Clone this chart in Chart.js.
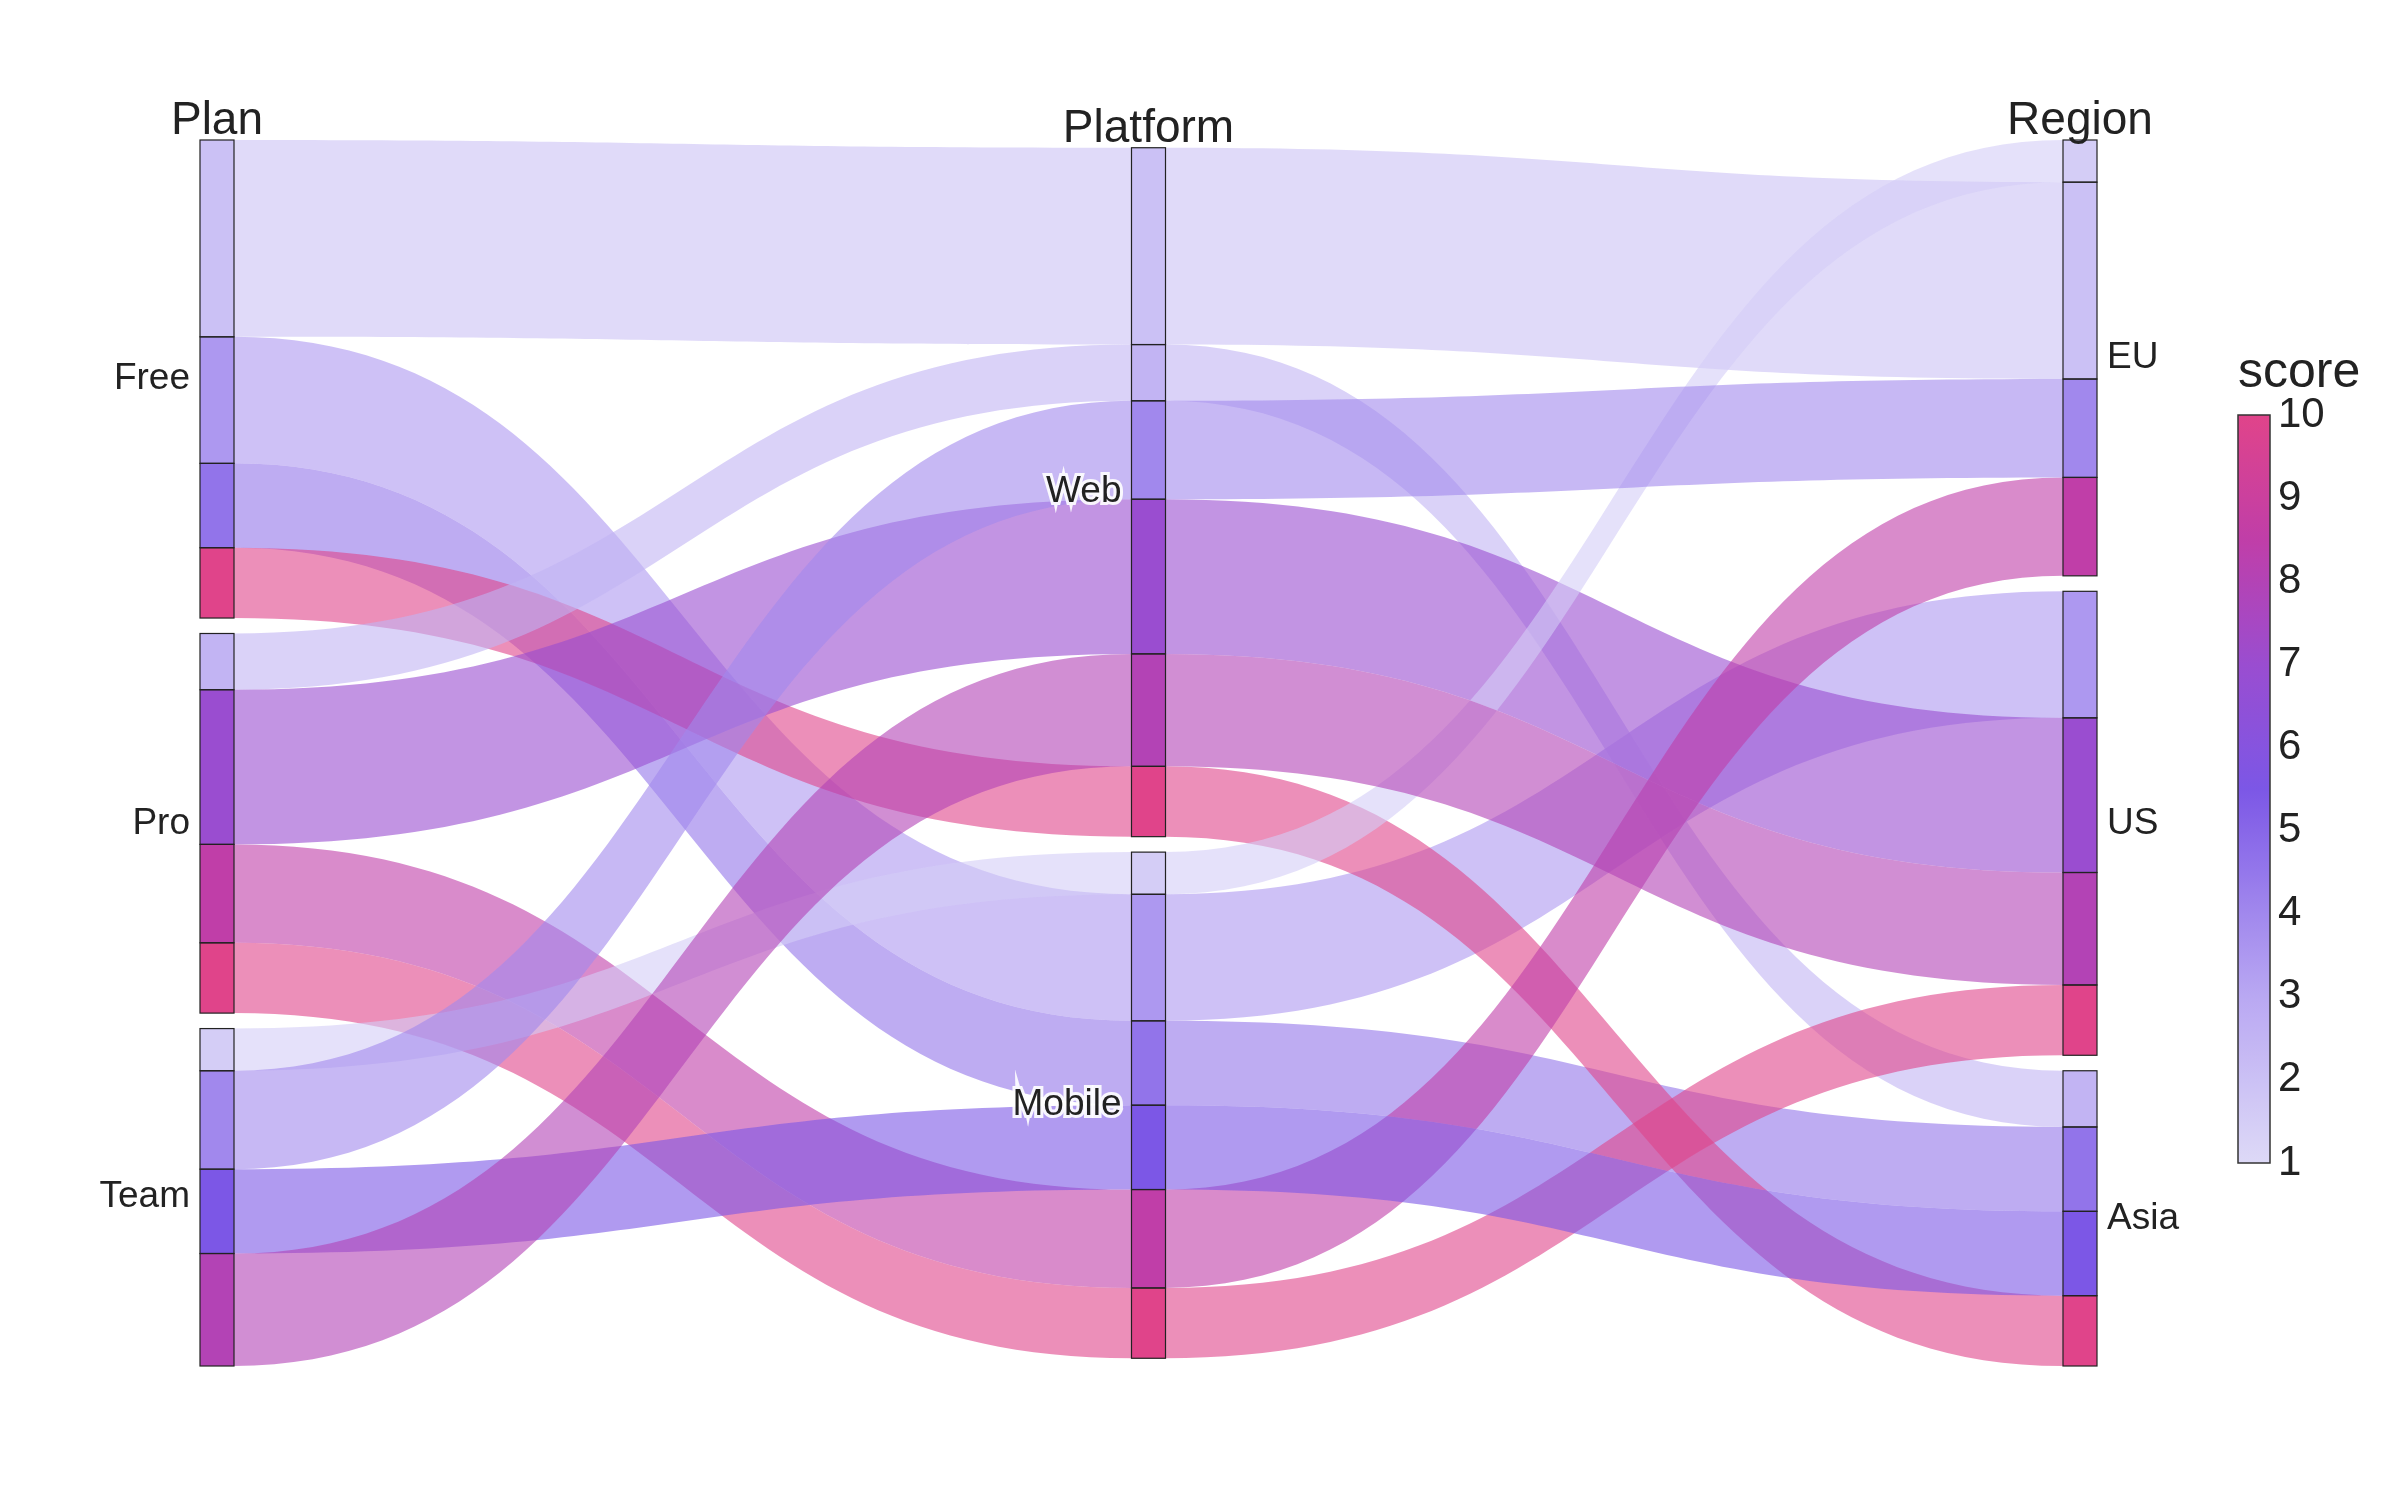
<!DOCTYPE html>
<html><head><meta charset="utf-8">
<script src="https://cdn.jsdelivr.net/npm/chart.js@4.4.0/dist/chart.umd.min.js"></script>
<style>html,body{margin:0;padding:0;background:#fff}</style>
</head><body>
<canvas id="c" width="2400" height="1500"></canvas>
<script>
const dimensions = ['Plan', 'Platform', 'Region'];
const planCats = ['Free', 'Pro', 'Team'];
const platformCats = ['Web', 'Mobile'];
const regionCats = ['EU', 'US', 'Asia'];
const pathPlan = ['Free','Free','Free','Free','Pro','Pro','Pro','Pro','Team','Team','Team','Team'];
const pathPlatform = ['Web','Mobile','Mobile','Web','Web','Web','Mobile','Mobile','Mobile','Web','Mobile','Web'];
const pathRegion = ['EU','US','Asia','Asia','Asia','US','EU','US','EU','EU','Asia','US'];
const pathCount = [14,9,6,5,4,11,7,5,3,7,6,8];
const pathScore = [2,3.5,4.6,10,2.5,7,8.5,10,1.5,4,5.5,8];
const colorTicks = [1,2,3,4,5,6,7,8,9,10];

const stops = [[1,[221,217,247]],[3,[185,168,242]],[5.5,[124,87,230]],[7,[154,77,208]],[8.5,[192,62,168]],[10,[224,68,138]]];
function col(s,a){for(let i=1;i<stops.length;i++){if(s<=stops[i][0]){const [s0,c0]=stops[i-1],[s1,c1]=stops[i];const t=(s-s0)/(s1-s0);const c=c0.map((v,k)=>Math.round(v+(c1[k]-v)*t));return `rgba(${c[0]},${c[1]},${c[2]},${a})`;}}return `rgba(224,68,138,${a})`;}

const GAP = 1.1;
const total = pathCount.reduce((a,b)=>a+b,0);
const yMax = total + 2*GAP;
const dimCats = [planCats, platformCats, regionCats];
const dimVals = [pathPlan, pathPlatform, pathRegion];

// compute positions (in data units) for each path in each dimension
function layout(){
  const pos = []; const cats = [];
  dimCats.forEach((cl,d)=>{
    const span = total + (cl.length-1)*GAP;
    let y = (yMax - span)/2;
    const p = new Array(pathCount.length); const cs=[];
    cl.forEach(c=>{
      const idx = pathCount.map((_,i)=>i).filter(i=>dimVals[d][i]===c).sort((a,b)=>pathScore[a]-pathScore[b]);
      const start=y;
      idx.forEach(i=>{p[i]=[y,y+pathCount[i]]; y+=pathCount[i];});
      cs.push({name:c,start,end:y}); y+=GAP;
    });
    pos.push(p); cats.push(cs);
  });
  return {pos,cats};
}

const plugin = {id:'parcats', afterDatasetsDraw(chart){
  const ctx=chart.ctx, xs=chart.scales.x, ys=chart.scales.y;
  const {pos,cats}=layout();
  const hw=17;
  // ribbons
  const order = pathCount.map((_,i)=>i);
  for(let d=0; d<2; d++){
    const x0=xs.getPixelForValue(d)+hw, x1=xs.getPixelForValue(d+1)-hw, xm=(x0+x1)/2;
    order.forEach(i=>{
      const a=pos[d][i], b=pos[d+1][i];
      const a0=ys.getPixelForValue(a[0]),a1=ys.getPixelForValue(a[1]),b0=ys.getPixelForValue(b[0]),b1=ys.getPixelForValue(b[1]);
      ctx.beginPath(); ctx.moveTo(x0,a0); ctx.bezierCurveTo(xm,a0,xm,b0,x1,b0);
      ctx.lineTo(x1,b1); ctx.bezierCurveTo(xm,b1,xm,a1,x0,a1); ctx.closePath();
      ctx.fillStyle=col(pathScore[i],0.6); ctx.fill();
    });
  }
  // bars
  for(let d=0; d<3; d++){
    const xc=xs.getPixelForValue(d);
    order.forEach(i=>{const p=pos[d][i];const y0=ys.getPixelForValue(p[0]),y1=ys.getPixelForValue(p[1]);
      ctx.fillStyle=col(pathScore[i],1); ctx.fillRect(xc-hw,y0,2*hw,y1-y0);});
    ctx.strokeStyle='#222'; ctx.lineWidth=1.2;
    order.forEach(i=>{const p=pos[d][i];const y0=ys.getPixelForValue(p[0]),y1=ys.getPixelForValue(p[1]);ctx.strokeRect(xc-hw,y0,2*hw,y1-y0);});
    // title
    const top=ys.getPixelForValue(cats[d][0].start);
    ctx.fillStyle='#222'; ctx.font='46px "Liberation Sans", Arial'; ctx.textAlign='center'; ctx.textBaseline='alphabetic';
    ctx.fillText(dimensions[d], xc, top-6);
    // cat labels
    ctx.font='37px "Liberation Sans", Arial'; ctx.textBaseline='middle';
    cats[d].forEach(c=>{const ym=ys.getPixelForValue((c.start+c.end)/2);
      if(d===2){ctx.textAlign='left';ctx.fillStyle='#222';ctx.fillText(c.name,xc+hw+10,ym);}
      else{ctx.textAlign='right';const tx=xc-hw-10;
        if(d===1){ctx.lineWidth=6;ctx.strokeStyle='rgba(255,255,255,0.9)';ctx.strokeText(c.name,tx,ym);}
        ctx.fillStyle='#222';ctx.fillText(c.name,tx,ym);}
    });
  }
  // colorbar
  const cbx=2238, cbw=32, cbTop=415, cbBot=1163;
  const cy=v=>cbBot-(v-1)/9*(cbBot-cbTop);
  const g=ctx.createLinearGradient(0,cbBot,0,cbTop);
  for(let k=0;k<=36;k++){const v=1+9*k/36;g.addColorStop(k/36,col(v,1));}
  ctx.fillStyle=g; ctx.fillRect(cbx,cbTop,cbw,cbBot-cbTop);
  ctx.strokeStyle='#333'; ctx.lineWidth=1.5; ctx.strokeRect(cbx,cbTop,cbw,cbBot-cbTop);
  ctx.fillStyle='#222'; ctx.font='42px "Liberation Sans", Arial'; ctx.textAlign='left'; ctx.textBaseline='middle';
  colorTicks.forEach(v=>ctx.fillText(String(v),cbx+cbw+8,cy(v)));
  ctx.font='50px "Liberation Sans", Arial'; ctx.textBaseline='alphabetic';
  ctx.fillText('score',cbx,cbTop-28);
}};

new Chart(document.getElementById('c'),{
  type:'scatter',
  data:{datasets:[{data:[],showLine:false}]},
  options:{responsive:false,devicePixelRatio:1,animation:false,
    layout:{padding:{left:217,right:320,top:140,bottom:134}},
    plugins:{legend:{display:false},tooltip:{enabled:false}},
    scales:{x:{type:'linear',min:0,max:2,display:false},
            y:{type:'linear',min:0,max:yMax,reverse:true,display:false}}},
  plugins:[plugin]
});
</script>
</body></html>
